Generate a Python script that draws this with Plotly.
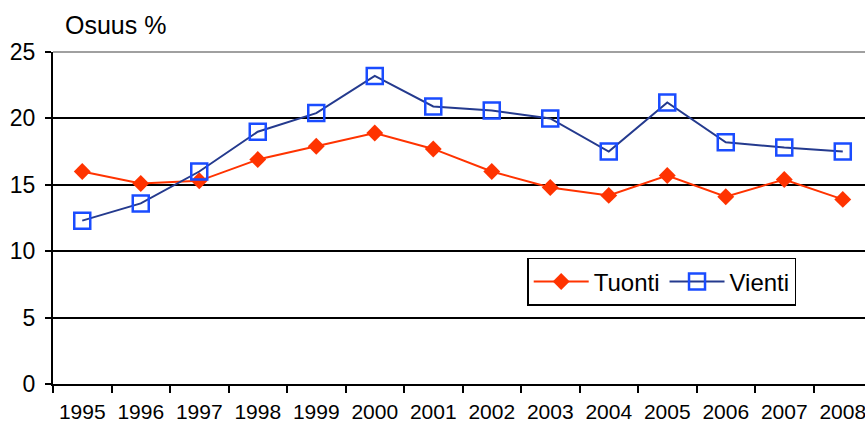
import plotly.graph_objects as go

years = ["1995", "1996", "1997", "1998", "1999", "2000", "2001", "2002",
         "2003", "2004", "2005", "2006", "2007", "2008"]
tuonti = [16.0, 15.1, 15.3, 16.9, 17.9, 18.9, 17.7, 16.0, 14.8, 14.2, 15.7, 14.1, 15.4, 13.9]
vienti = [12.3, 13.6, 16.0, 19.0, 20.4, 23.2, 20.9, 20.6, 20.0, 17.5, 21.2, 18.2, 17.8, 17.5]

fig = go.Figure()
fig.add_trace(go.Scatter(
    x=years, y=tuonti, name="Tuonti", mode="lines+markers",
    line=dict(color="#FF3300", width=2),
    marker=dict(symbol="diamond", size=13, color="#FF3300"),
))
fig.add_trace(go.Scatter(
    x=years, y=vienti, name="Vienti", mode="lines+markers",
    line=dict(color="#243A8E", width=2),
    marker=dict(symbol="square-open", size=16, color="#1A4CFF", line=dict(width=2.5, color="#1A4CFF")),
))

fig.update_layout(
    width=865, height=423,
    margin=dict(l=53, r=0, t=52, b=39, autoexpand=False),
    paper_bgcolor="white", plot_bgcolor="white",
    font=dict(family="Arial, Liberation Sans, sans-serif", color="black", size=21),
    showlegend=True,
    legend=dict(
        x=0.584, y=0.38, xanchor="left", yanchor="top",
        orientation="h",
        bordercolor="black", borderwidth=1.5, bgcolor="white",
        font=dict(size=24),
        itemwidth=55,
    ),
    annotations=[dict(
        text="Osuus %", xref="paper", yref="paper", x=0.012, y=1.0,
        xanchor="left", yanchor="bottom", yshift=11, showarrow=False,
        font=dict(size=25),
    )],
    shapes=[dict(type="line", xref="paper", yref="paper", x0=0, x1=1, y0=1, y1=1,
                 line=dict(color="#A0A0A0", width=2), layer="above")],
)
fig.update_xaxes(
    type="category", range=[-0.5, 13.38], automargin=False, tickangle=0,
    showline=True, linecolor="black", linewidth=2,
    ticks="outside", tickson="boundaries", ticklen=7, tickwidth=2, tickcolor="black",
    showgrid=False, tickfont=dict(size=21), ticklabelstandoff=8,
)
fig.update_yaxes(
    range=[0, 25], dtick=5, automargin=False,
    showline=True, linecolor="black", linewidth=2,
    ticks="outside", ticklen=6, tickwidth=2, tickcolor="black",
    showgrid=True, gridcolor="black", gridwidth=2, zeroline=False,
    tickfont=dict(size=23), ticklabelstandoff=5,
)

fig.write_html("out.html", config={"displayModeBar": False},
               post_script="document.body.style.margin='0';")
